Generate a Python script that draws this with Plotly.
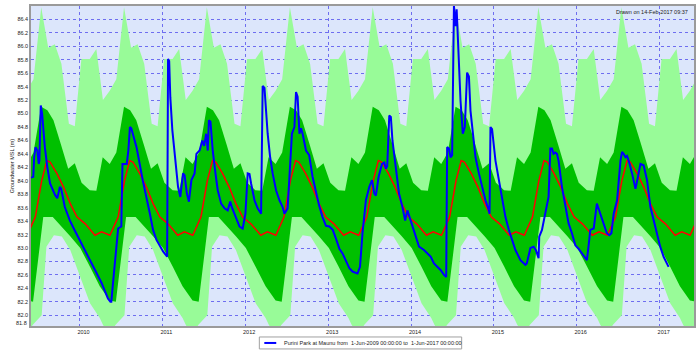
import plotly.graph_objects as go

# ---- seasonal statistics: vertices as (month-day, value), repeated every year ----
MAX_MD = ["01-09", "02-15", "03-16", "04-14", "05-14", "06-12", "07-16", "08-16", "09-14", "10-13", "11-15", "12-11"]
MAX_V = [85.81, 85.81, 85.96, 85.20, 85.34, 85.51, 86.58, 85.98, 86.03, 85.74, 84.85, 84.81]

HI_MD = ["01-10", "02-15", "03-16", "04-13", "05-14", "06-12", "07-16", "08-12", "09-08", "10-10", "11-12", "12-11"]
HI_V = [83.97, 83.86, 83.85, 84.35, 84.25, 84.42, 85.10, 85.05, 84.90, 84.55, 84.18, 84.26]

MED_MD = ["01-26", "03-10", "04-08", "05-15", "06-20", "07-18", "08-10", "08-24", "09-23", "10-22", "11-21", "12-21"]
MED_V = [83.36, 83.19, 83.24, 83.19, 83.46, 84.00, 84.30, 84.28, 84.11, 83.91, 83.66, 83.46]

LO_MD = ["01-04", "02-16", "03-31", "05-14", "06-10", "07-25", "09-05", "10-10", "11-20"]
LO_V = [83.00, 82.72, 82.43, 82.22, 82.20, 83.46, 83.46, 83.33, 83.18]

MIN_MD = ["01-04", "02-16", "03-31", "04-14", "05-12", "06-09", "07-18", "08-08", "09-10", "10-15", "11-21"]
MIN_V = [82.57, 82.18, 81.96, 81.86, 81.70, 81.86, 82.00, 83.02, 83.19, 83.17, 82.97]

YEARS = list(range(2008, 2019))

# ---- observed groundwater level ----
BLUE_DATES = [
    "2009-06-01", "2009-06-11", "2009-06-15", "2009-06-21", "2009-06-29", "2009-07-05", "2009-07-08", "2009-07-14",
    "2009-07-20", "2009-08-01", "2009-08-12", "2009-08-24", "2009-09-15", "2009-09-25", "2009-10-06", "2009-10-12",
    "2009-10-28", "2009-11-19", "2009-12-11", "2010-01-09", "2010-02-07", "2010-03-09", "2010-04-08", "2010-05-06",
    "2010-05-17", "2010-05-21", "2010-05-29", "2010-06-10", "2010-06-20", "2010-07-04", "2010-07-09", "2010-07-28",
    "2010-08-04", "2010-08-11", "2010-08-17", "2010-09-09", "2010-10-07", "2010-11-07", "2010-11-21", "2010-12-06",
    "2010-12-21", "2011-01-04", "2011-01-22", "2011-01-26", "2011-01-31", "2011-02-05", "2011-02-14", "2011-02-24",
    "2011-03-11", "2011-03-21", "2011-04-02", "2011-04-09", "2011-04-19", "2011-04-28", "2011-05-09", "2011-05-23",
    "2011-05-31", "2011-06-14", "2011-06-26", "2011-07-04", "2011-07-13", "2011-07-20", "2011-07-25", "2011-08-01",
    "2011-08-11", "2011-08-23", "2011-09-02", "2011-09-17", "2011-10-02", "2011-10-16", "2011-10-27", "2011-11-04",
    "2011-11-22", "2011-12-07", "2011-12-21", "2012-01-02", "2012-01-12", "2012-01-20", "2012-01-27", "2012-02-11",
    "2012-02-25", "2012-03-11", "2012-03-18", "2012-03-26", "2012-04-02", "2012-04-09", "2012-04-20", "2012-05-01",
    "2012-05-16", "2012-05-31", "2012-06-14", "2012-06-22", "2012-07-06", "2012-07-14", "2012-07-25", "2012-08-05",
    "2012-08-12", "2012-08-19", "2012-08-27", "2012-09-03", "2012-09-10", "2012-09-25", "2012-10-09", "2012-10-24",
    "2012-11-08", "2012-11-22", "2012-12-07", "2012-12-22", "2013-01-06", "2013-01-21", "2013-02-04", "2013-02-19",
    "2013-03-05", "2013-03-20", "2013-04-04", "2013-04-18", "2013-05-10", "2013-05-21", "2013-06-01", "2013-06-16",
    "2013-07-01", "2013-07-13", "2013-07-23", "2013-07-30", "2013-08-11", "2013-08-26", "2013-09-05", "2013-09-12",
    "2013-09-18", "2013-09-27", "2013-10-04", "2013-10-11", "2013-10-26", "2013-11-09", "2013-11-24", "2013-12-06",
    "2013-12-16", "2013-12-27", "2014-01-07", "2014-01-22", "2014-02-05", "2014-02-27", "2014-03-14", "2014-03-29",
    "2014-04-12", "2014-04-27", "2014-05-12", "2014-05-26", "2014-06-05", "2014-06-09", "2014-06-17", "2014-06-24",
    "2014-07-01", "2014-07-09", "2014-07-16", "2014-07-21", "2014-07-28", "2014-08-07", "2014-08-17", "2014-08-26",
    "2014-09-05", "2014-09-13", "2014-09-20", "2014-09-30", "2014-10-12", "2014-10-27", "2014-11-10", "2014-11-25",
    "2014-12-07", "2014-12-13", "2014-12-17", "2014-12-24", "2015-01-08", "2015-01-23", "2015-02-06", "2015-02-21",
    "2015-03-08", "2015-03-22", "2015-04-06", "2015-04-28", "2015-05-20", "2015-05-26", "2015-06-11", "2015-06-25",
    "2015-07-05", "2015-07-17", "2015-07-20", "2015-08-01", "2015-08-16", "2015-08-30", "2015-09-07", "2015-09-14",
    "2015-09-21", "2015-09-29", "2015-10-06", "2015-10-13", "2015-10-28", "2015-11-12", "2015-11-26", "2015-12-11",
    "2015-12-26", "2016-01-09", "2016-01-27", "2016-02-15", "2016-02-22", "2016-03-01", "2016-03-16", "2016-03-30",
    "2016-04-14", "2016-04-29", "2016-05-13", "2016-05-24", "2016-06-02", "2016-06-12", "2016-06-27", "2016-07-12",
    "2016-07-19", "2016-07-26", "2016-08-03", "2016-08-10", "2016-08-17", "2016-09-01", "2016-09-16", "2016-09-27",
    "2016-10-08", "2016-10-22", "2016-11-06", "2016-11-21", "2016-12-05", "2016-12-20", "2017-01-03", "2017-01-18",
    "2017-02-09",
]
BLUE_VALS = [
    84.05, 84.06, 84.35, 84.50, 84.45, 84.25, 84.30, 85.12,
    85.00, 84.50, 84.20, 83.96, 83.79, 83.74, 83.91, 83.88,
    83.61, 83.41, 83.26, 83.07, 82.90, 82.68, 82.48, 82.25,
    82.20, 82.20, 82.50, 82.97, 83.29, 83.32, 84.25, 84.25,
    84.45, 84.80, 84.78, 84.50, 84.00, 83.51, 83.27, 83.12,
    83.02, 82.95, 82.87, 85.81, 85.78, 85.24, 84.75, 84.45,
    83.91, 83.76, 84.11, 84.08, 83.81, 83.69, 84.01, 84.11,
    84.40, 84.45, 84.60, 84.52, 84.70, 84.45, 84.90, 84.88,
    84.45, 84.11, 83.86, 83.66, 83.59, 83.56, 83.69, 83.60,
    83.44, 83.32, 83.29, 83.51, 84.11, 84.10, 83.96, 83.71,
    83.59, 83.51, 85.41, 85.38, 85.04, 84.70, 84.35, 84.11,
    83.86, 83.71, 83.61, 83.51, 83.59, 84.00, 84.70, 84.80,
    85.32, 85.25, 84.70, 84.78, 84.70, 84.45, 84.38, 84.06,
    83.81, 83.63, 83.46, 83.33, 83.32, 83.27, 83.14, 82.99,
    82.92, 82.82, 82.70, 82.65, 82.62, 82.72, 83.22, 83.71,
    83.91, 84.01, 83.81, 83.78, 84.06, 84.25, 84.27, 84.18,
    84.22, 84.97, 84.95, 84.60, 84.20, 83.81, 83.61, 83.41,
    83.56, 83.44, 83.32, 83.17, 83.02, 82.97, 82.92, 82.87,
    82.77, 82.72, 82.67, 82.60, 82.57, 84.50, 84.48, 84.35,
    84.38, 86.60, 86.30, 86.55, 85.88, 85.19, 84.70, 84.80,
    85.61, 85.55, 85.04, 84.70, 84.35, 84.11, 83.91, 83.71,
    83.59, 83.51, 84.80, 84.77, 84.30, 84.01, 83.71, 83.46,
    83.27, 83.12, 82.97, 82.82, 82.75, 82.77, 83.00, 83.02,
    82.97, 82.85, 83.17, 83.27, 83.51, 83.76, 84.48, 84.48,
    84.40, 84.42, 84.40, 84.30, 83.91, 83.61, 83.37, 83.22,
    83.04, 82.99, 82.90, 82.82, 83.02, 83.27, 83.29, 83.66,
    83.51, 83.37, 83.22, 83.19, 83.22, 83.51, 83.71, 84.30,
    84.43, 84.40, 84.35, 84.37, 84.30, 84.11, 83.88, 84.06,
    84.25, 84.23, 84.01, 83.61, 83.41, 83.22, 83.02, 82.87,
    82.72,
]

YEAR_TICKS = [2010, 2011, 2012, 2013, 2014, 2015, 2016, 2017]
Y_TICKS = [82.0, 82.2, 82.4, 82.6, 82.8, 83.0, 83.2, 83.4, 83.6, 83.8, 84.0, 84.2, 84.4,
           84.6, 84.8, 85.0, 85.2, 85.4, 85.6, 85.8, 86.0, 86.2, 86.4]
Y_RANGE = [81.84, 86.6]
X_RANGE = ["2009-06-01", "2017-06-01"]

LEGEND_TEXT = "Purini Park at Maunu from  1-Jun-2009 00:00:00 to  1-Jun-2017 00:00:00"
DRAWN_TEXT = "Drawn on 14-Feb-2017 09:37"
Y_TITLE = "Groundwater MSL (m)"


def tile(mds, vals):
    xs, ys = [], []
    for yr in YEARS:
        for md, v in zip(mds, vals):
            xs.append(f"{yr}-{md}")
            ys.append(v)
    return xs, ys


max_x, max_y = tile(MAX_MD, MAX_V)
min_x, min_y = tile(MIN_MD, MIN_V)
hi_x, hi_y = tile(HI_MD, HI_V)
lo_x, lo_y = tile(LO_MD, LO_V)
med_x, med_y = tile(MED_MD, MED_V)

FONT = "Liberation Sans, Arial, sans-serif"
FS = 5.5
TXT = "#222222"
LIGHT_GREEN = "#98fb98"
DARK_GREEN = "#00c000"
GRID = "#6e6ef0"

fig = go.Figure()
fig.add_trace(go.Scatter(x=max_x + min_x[::-1], y=max_y + min_y[::-1], fill="toself",
                         fillcolor=LIGHT_GREEN, line=dict(width=0, color=LIGHT_GREEN), mode="lines",
                         hoverinfo="skip", showlegend=False))
fig.add_trace(go.Scatter(x=hi_x + lo_x[::-1], y=hi_y + lo_y[::-1], fill="toself",
                         fillcolor=DARK_GREEN, line=dict(width=0, color=DARK_GREEN), mode="lines",
                         hoverinfo="skip", showlegend=False))
fig.add_trace(go.Scatter(x=med_x, y=med_y, mode="lines", line=dict(color="#ff0000", width=1.5),
                         showlegend=False))
fig.add_trace(go.Scatter(x=BLUE_DATES, y=BLUE_VALS, mode="lines", line=dict(color="#0000ff", width=2),
                         name=LEGEND_TEXT, showlegend=False))

fig.update_layout(
    width=700, height=351,
    margin=dict(l=31, r=4, t=5, b=25),
    paper_bgcolor="white",
    plot_bgcolor="#dce6fb",
    font=dict(family=FONT, size=FS, color=TXT),
    xaxis=dict(type="date", range=X_RANGE,
               tickvals=[f"{y}-01-01" for y in YEAR_TICKS],
               ticktext=[str(y) for y in YEAR_TICKS],
               showgrid=True, gridcolor=GRID, griddash="dot", gridwidth=1,
               showline=True, mirror=True, linecolor="#9a9a9a", linewidth=1.5,
               ticks="", zeroline=False, ticklabelshift=4,
               tickfont=dict(family=FONT, size=FS, color=TXT)),
    yaxis=dict(range=Y_RANGE, tickvals=Y_TICKS, ticktext=[f"{v:.1f}" for v in Y_TICKS],
               showgrid=True, gridcolor=GRID, griddash="dot", gridwidth=1,
               showline=True, mirror=True, linecolor="#9a9a9a", linewidth=1.5,
               ticks="", zeroline=False,
               tickfont=dict(family=FONT, size=FS, color=TXT)),
    showlegend=False,
)

# y-axis title
fig.add_annotation(text=Y_TITLE, xref="paper", yref="paper", x=-0.036, y=0.5,
                   textangle=-90, showarrow=False, font=dict(family=FONT, size=FS, color=TXT))
# bottom label of y axis
fig.add_annotation(text="81.8", xref="paper", yref="y", x=0, y=81.885, xanchor="right",
                   xshift=-2, showarrow=False, font=dict(family=FONT, size=FS, color=TXT))
# drawn-on stamp
fig.add_annotation(text=DRAWN_TEXT, xref="paper", yref="paper", x=0.994, y=0.981,
                   xanchor="right", yanchor="middle", showarrow=False,
                   font=dict(family=FONT, size=FS, color=TXT))

# legend box (manual, below the plot)
fig.add_shape(type="rect", xref="paper", yref="paper", x0=0.3444, x1=0.6496, y0=-0.0717, y1=-0.0343,
              line=dict(color="#a0a0a0", width=1), fillcolor="white")
fig.add_shape(type="line", xref="paper", yref="paper", x0=0.3519, x1=0.3699, y0=-0.053, y1=-0.053,
              line=dict(color="#0000ff", width=2))
fig.add_annotation(text=LEGEND_TEXT, xref="paper", yref="paper", x=0.3789, y=-0.053,
                   xanchor="left", yanchor="middle", showarrow=False,
                   font=dict(family=FONT, size=FS, color=TXT))

fig.write_html("out.html")
